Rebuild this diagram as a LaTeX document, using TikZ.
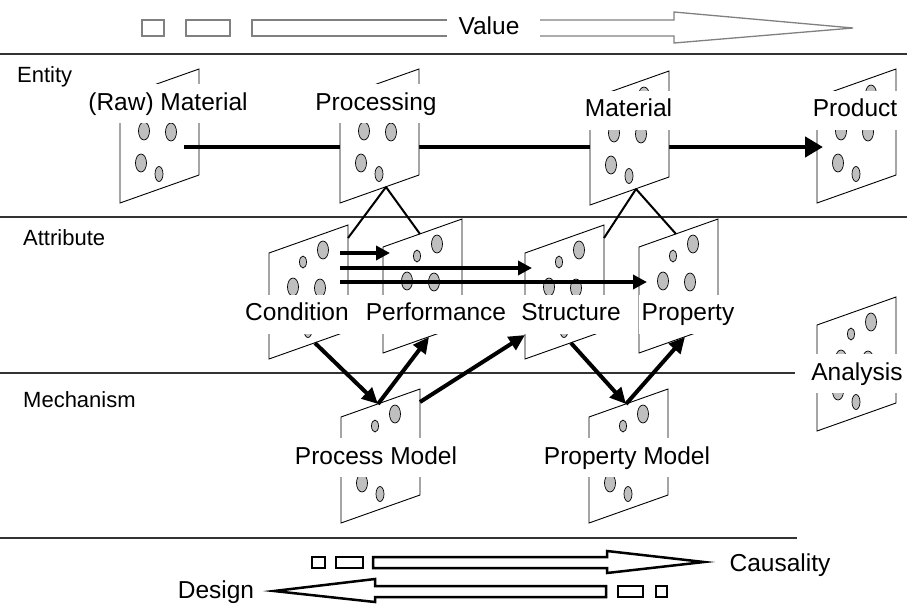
\documentclass[tikz,border=0pt]{standalone}
\usepackage{fontspec}
\setmainfont{Liberation Sans}
\usetikzlibrary{arrows.meta}

\tikzset{
  blob/.style={draw=black, fill=black!25, line width=0.7pt},
  pics/panel/.style={code={
    \draw[fill=white, line width=0.9pt] (0,0) coordinate (-tl) -- (79,-28) coordinate (-tr)
      -- (79,78) coordinate (-br) -- (0,106) coordinate (-bl) -- cycle;
    \coordinate (-top) at (37,-13);
    \coordinate (-bot) at (46,90);
    \coordinate (-rt) at (79,-15);
    \coordinate (-lft) at (0,82);
    \foreach \ex/\ey/\rx/\ry in {34/9/3.5/6, 54/-3/5.5/9, 24/34/5.5/9, 51/35/5.5/9, 21/66/5.5/9, 39/77/4/7.5}
      \draw[blob] (\ex,\ey) ellipse [x radius=\rx, y radius=\ry];
  }},
  lbl/.style={fill=white, inner xsep=3pt, inner ysep=8pt, text height=18pt, text depth=5pt,
    font=\fontsize{24.5}{29}\selectfont},
  rowname/.style={anchor=west, inner sep=0pt, text height=16pt, text depth=5pt,
    font=\fontsize{22}{26}\selectfont},
  rowline/.style={line width=2pt, black!80},
  link/.style={line width=2pt},
  flow/.style={line width=3.5pt, -{Triangle[length=14pt,width=14pt]}},
  mech/.style={line width=4pt, -{Triangle[length=16pt,width=15pt]}},
  hollow/.style={line width=2.5pt, line join=miter},
}

\begin{document}
\begin{tikzpicture}[x=1pt, y=-1pt]
\useasboundingbox (0,0) rectangle (907,603);

% row separators
\draw[rowline] (0,54) -- (907,54);
\draw[rowline] (0,217) -- (907,217);
\draw[rowline] (0,373) -- (795,373);
\draw[rowline] (0,538) -- (797,538);

\node[rowname] (entity) at (17,76.5) {Entity};
\node[rowname] (attribute) at (23,239.5) {Attribute};
\node[rowname] (mechanism) at (23,401.5) {Mechanism};

% value arrow
\draw[black!50, line width=1.3pt] (142,20) rectangle (164,36);
\draw[black!50, line width=1.3pt] (186,20) rectangle (230,36);
\draw[black!50, line width=1.3pt] (447,20) -- (252,20) -- (252,36) -- (447,36);
\draw[black!50, line width=1.3pt, line join=miter] (540,20) -- (674,20) -- (674,12) -- (853,28)
  -- (674,43) -- (674,36) -- (540,36);
\node[lbl, fill=none] (value) at (489,27.5) {Value};

% entity row
\pic (raw) at (120,97) {panel};
\pic (prod) at (817,97) {panel};
\coordinate (raw-out) at (184,147);
\coordinate (prod-in) at (823,147);
\draw[line width=4.5pt, -{Triangle[length=18pt,width=20pt]}] (raw-out) -- (prod-in);
\pic (proc) at (340,97) {panel};
\pic (mat) at (590,99) {panel};
\node[lbl] (rawlbl) at (168,103.5) {(Raw) Material};
\node[lbl] (proclbl) at (376,103.5) {Processing};
\node[lbl] (matlbl) at (628.5,110) {Material};
\node[lbl] (prodlbl) at (855,110) {Product};

% attribute row
\pic (cond) at (269,253) {panel};
\pic (perf) at (383,247) {panel};
\pic (str) at (525,253) {panel};
\pic (prop) at (639,247) {panel};
\draw[link] (proc-bot) -- (cond-rt);
\draw[link] (proc-bot) -- (perf-top);
\draw[link] (mat-bot) -- (str-rt);
\draw[link] (mat-bot) -- (prop-top);
\coordinate (cond-o1) at (340,253);
\coordinate (cond-o2) at (340,268);
\coordinate (cond-o3) at (340,282);
\coordinate (perf-in) at (390,253);
\coordinate (str-in) at (532,268);
\coordinate (prop-in) at (647,282);
\draw[flow] (cond-o1) -- (perf-in);
\draw[flow] (cond-o2) -- (str-in);
\draw[flow] (cond-o3) -- (prop-in);

% mechanism row
\pic (pm) at (341,417) {panel};
\pic (ppm) at (589,417) {panel};
\pic (ana) at (817,325) {panel};
\draw[mech] (cond-bot) -- (pm-top);
\draw[mech] (pm-top) -- (perf-bot);
\draw[mech] (pm-rt) -- (str-lft);
\draw[mech] (str-bot) -- (ppm-top);
\draw[mech] (ppm-top) -- (prop-bot);

\node[lbl] (condlbl) at (297,314) {Condition};
\node[lbl] (perflbl) at (436,314) {Performance};
\node[lbl] (strlbl) at (571,314) {Structure};
\node[lbl] (proplbl) at (688,314) {Property};
\node[lbl] (analbl) at (857,373.5) {Analysis};
\node[lbl] (pmlbl) at (376,457.5) {Process Model};
\node[lbl] (ppmlbl) at (627,457.5) {Property Model};

% causality / design
\draw[hollow] (312,557) rectangle (325,568);
\draw[hollow] (336,557) rectangle (363,568);
\draw[hollow] (373,557) -- (607,557) -- (607,551) -- (704,562) -- (607,573) -- (607,568) -- (373,568) -- cycle;
\node[lbl, fill=none] (cause) at (780,565) {Causality};
\draw[hollow] (274,591) -- (375,579) -- (375,586) -- (606,586) -- (606,597) -- (375,597) -- (375,602) -- cycle;
\draw[hollow] (618,586) rectangle (643,597);
\draw[hollow] (656,586) rectangle (667,597);
\node[lbl, fill=none] (design) at (216,592) {Design};
\end{tikzpicture}
\end{document}
